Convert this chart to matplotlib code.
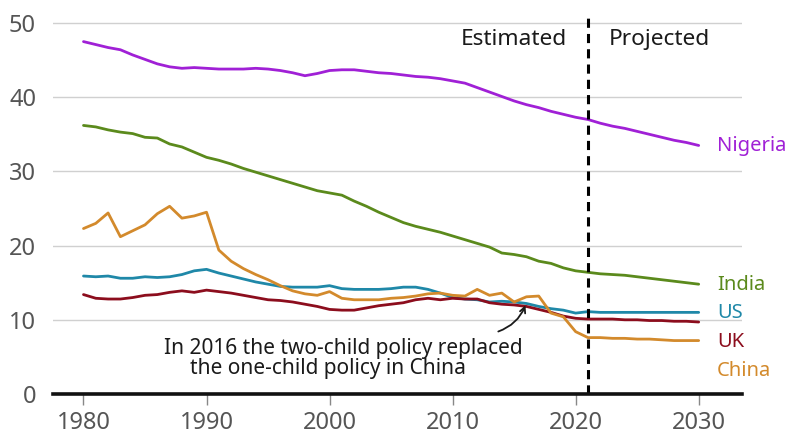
import matplotlib
matplotlib.use("Agg")
import matplotlib.pyplot as plt
import numpy as np

plt.rcParams['font.family'] = ['Noto Sans', 'DejaVu Sans']

years = list(range(1980, 2031))

nigeria = [47.5, 47.1, 46.7, 46.4, 45.7, 45.1, 44.5, 44.1, 43.9, 44.0,
           43.9, 43.8, 43.8, 43.8, 43.9, 43.8, 43.6, 43.3, 42.9, 43.2,
           43.6, 43.7, 43.7, 43.5, 43.3, 43.2, 43.0, 42.8, 42.7, 42.5,
           42.2, 41.9, 41.3, 40.7, 40.1, 39.5, 39.0, 38.6, 38.1, 37.7,
           37.3, 37.0, 36.5, 36.1, 35.8, 35.4, 35.0, 34.6, 34.2, 33.9, 33.5]
india = [36.2, 36.0, 35.6, 35.3, 35.1, 34.6, 34.5, 33.7, 33.3, 32.6,
         31.9, 31.5, 31.0, 30.4, 29.9, 29.4, 28.9, 28.4, 27.9, 27.4,
         27.1, 26.8, 26.0, 25.3, 24.5, 23.8, 23.1, 22.6, 22.2, 21.8,
         21.3, 20.8, 20.3, 19.8, 19.0, 18.8, 18.5, 17.9, 17.6, 17.0,
         16.6, 16.4, 16.2, 16.1, 16.0, 15.8, 15.6, 15.4, 15.2, 15.0, 14.8]
china = [22.3, 23.0, 24.4, 21.2, 22.0, 22.8, 24.3, 25.3, 23.7, 24.0,
         24.5, 19.4, 17.9, 16.9, 16.1, 15.4, 14.6, 13.9, 13.5, 13.3,
         13.8, 12.9, 12.7, 12.7, 12.7, 12.9, 13.0, 13.2, 13.5, 13.6,
         13.3, 13.2, 14.1, 13.3, 13.6, 12.4, 13.1, 13.2, 10.9, 10.4,
         8.4, 7.6, 7.6, 7.5, 7.5, 7.4, 7.4, 7.3, 7.2, 7.2, 7.2]
us = [15.9, 15.8, 15.9, 15.6, 15.6, 15.8, 15.7, 15.8, 16.1, 16.6,
      16.8, 16.3, 15.9, 15.5, 15.1, 14.8, 14.5, 14.4, 14.4, 14.4,
      14.6, 14.2, 14.1, 14.1, 14.1, 14.2, 14.4, 14.4, 14.1, 13.6,
      13.0, 12.8, 12.7, 12.4, 12.5, 12.4, 12.2, 11.8, 11.5, 11.3,
      10.9, 11.1, 11.0, 11.0, 11.0, 11.0, 11.0, 11.0, 11.0, 11.0, 11.0]
uk = [13.4, 12.9, 12.8, 12.8, 13.0, 13.3, 13.4, 13.7, 13.9, 13.7,
      14.0, 13.8, 13.6, 13.3, 13.0, 12.7, 12.6, 12.4, 12.1, 11.8,
      11.4, 11.3, 11.3, 11.6, 11.9, 12.1, 12.3, 12.7, 12.9, 12.7,
      12.9, 12.8, 12.8, 12.3, 12.1, 12.0, 11.8, 11.4, 11.0, 10.5,
      10.2, 10.1, 10.1, 10.1, 10.0, 10.0, 9.9, 9.9, 9.8, 9.8, 9.7]

series_names = ["Nigeria", "India", "US", "UK", "China"]
series_values = [nigeria, india, us, uk, china]
colors = ["#a020d6", "#5b8a1c", "#1f88a8", "#8c0d1d", "#d38a2c"]
label_y = [33.4, 14.7, 10.9, 7.05, 3.1]

x_ticks = [1980, 1990, 2000, 2010, 2020, 2030]
y_ticks = [0, 10, 20, 30, 40, 50]
split_year = 2021

fig = plt.figure(figsize=(7.87, 4.38), dpi=100)
ax = fig.add_axes([0.067, 0.1005, 0.8755, 0.8655])

for name, vals, c, ly in zip(series_names, series_values, colors, label_y):
    ax.plot(years, vals, color=c, lw=2.0, solid_capstyle='round', zorder=3)
    ax.text(2031.5, ly, name, color=c, fontsize=14.5, va='center', ha='left')

ax.set_xlim(1977.5, 2033.5)
ax.set_ylim(0, 51.1)

for yv in y_ticks[1:]:
    ax.axhline(yv, color='#d0d0d0', lw=1.0, zorder=1)

ax.axvline(split_year, color='black', lw=2.2, dashes=(3, 2), zorder=4)

ax.text(split_year - 1.7, 47.8, "Estimated", ha='right', va='center', fontsize=16.3, color='#1a1a1a')
ax.text(split_year + 1.7, 47.8, "Projected", ha='left', va='center', fontsize=16.3, color='#1a1a1a')

ax.text(2001.1, 6.1, "In 2016 the two-child policy replaced", ha='center', va='center',
        fontsize=15, color='#1a1a1a')
ax.text(1999.9, 3.4, "the one-child policy in China", ha='center', va='center',
        fontsize=15, color='#1a1a1a')
ax.annotate("", xy=(2016.0, 12.3), xytext=(2013.5, 8.3),
            arrowprops=dict(arrowstyle='->', color='#1a1a1a', lw=1.3,
                            connectionstyle='arc3,rad=0.25'), zorder=5)

for s in ['top', 'right', 'left']:
    ax.spines[s].set_visible(False)
ax.spines['bottom'].set_linewidth(2.6)
ax.spines['bottom'].set_color('#111111')
ax.spines['bottom'].set_zorder(5)

ax.set_xticks(x_ticks)
ax.set_yticks(y_ticks)
ax.tick_params(axis='y', length=0, pad=12, labelsize=17, labelcolor='#555555')
ax.tick_params(axis='x', length=8, width=1.0, color='#888888', pad=4, labelsize=17, labelcolor='#555555')

fig.savefig("out.png", dpi=100)
